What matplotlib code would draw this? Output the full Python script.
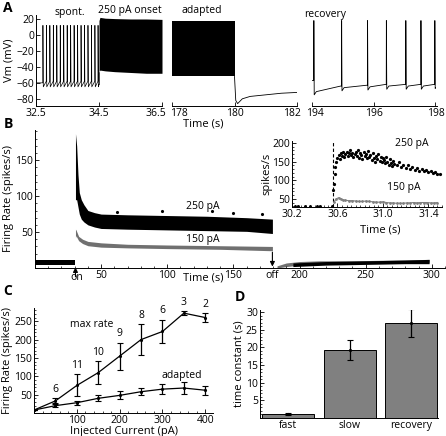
import numpy as np
import matplotlib
matplotlib.use("Agg")
import matplotlib.pyplot as plt
from matplotlib.ticker import MultipleLocator
from matplotlib.transforms import ScaledTranslation

plt.rcParams['font.family'] = ['Open Sans', 'DejaVu Sans']
plt.rcParams['font.size'] = 7.5

# ---------------- DATA ----------------
# Panel A: spontaneous spikes (s), peak/trough (mV)
spont_spikes = [32.72, 32.83, 32.94, 33.05, 33.16, 33.27, 33.38, 33.49, 33.60,
                33.71, 33.82, 33.93, 34.04, 34.15, 34.26, 34.37, 34.47]
spont_peak = 12
spont_trough = -65
spont_thresh = -58
# 250 pA onset block envelope
onset_t = [34.5, 34.53, 34.7, 35.0, 35.5, 36.0, 36.5]
onset_hi = [18, 22, 21, 20.5, 20, 20, 19.5]
onset_lo = [-46, -44, -45, -46, -47, -48, -48]
# adapted block envelope
adapt_t = [178.0, 180.0]
adapt_hi = [18, 18]
adapt_lo = [-52, -52]
# after current off
off_t = [180.0, 180.04, 180.1, 180.25, 180.5, 181.0, 181.5, 182.0]
off_v = [-52, -82, -86, -80, -77, -75, -73, -72]
# recovery
rec_spikes = [194.06, 194.96, 195.80, 196.41, 197.04, 197.53, 197.98]
rec_peak = 18
rec_trough = [-75, -70, -69, -68, -68, -68, -67]
rec_thresh = [-64, -63, -62, -62, -62, -62, -65]

# Panel B: firing-rate envelopes (spikes/s)
pre_t = [0, 30.5]
pre_hi = [11, 11]
pre_lo = [4, 4]
r250_t = [30.6, 31.5, 32.5, 33.5, 35, 37, 40, 45, 50, 70, 100, 130, 160, 179.5]
r250_hi = [187, 170, 130, 105, 95, 88, 80, 77, 75, 74, 73, 72, 70, 68]
r250_lo = [95, 95, 85, 75, 68, 64, 60, 57, 55, 54, 53, 52, 51, 48]
r150_t = [30.6, 31, 33, 36, 40, 50, 70, 100, 140, 179.5]
r150_hi = [54, 53, 44, 40, 37, 35, 33, 32, 31, 30]
r150_lo = [42, 45, 38, 34, 31, 29, 28, 27, 26, 24]
rec_g_t = [183, 190, 200, 215, 240, 270, 298]
rec_g_hi = [3, 7, 9, 10, 10, 11, 12]
rec_g_lo = [0, 2, 4, 5, 6, 7, 8]
rec_b_t = [195, 220, 250, 280, 298]
rec_b_hi = [7, 9, 10, 11, 12]
rec_b_lo = [2, 4, 5, 6, 6]
out_t = [62, 96, 134, 150, 172]
out_v = [78, 80, 80, 77, 75]

# Inset
ins_pre_t = [30.23, 30.255, 30.315, 30.36, 30.42, 30.445, 30.55]
ins_pre_v = [31, 31, 31, 31, 31, 31, 31]
ins_onset = 30.56
ins250_t = [30.565, 30.57, 30.575, 30.58, 30.59, 30.60, 30.61, 30.62, 30.63, 30.64,
            30.65, 30.66, 30.67, 30.68, 30.69, 30.70, 30.71, 30.72, 30.73, 30.74,
            30.75, 30.76, 30.77, 30.78, 30.79, 30.80, 30.81, 30.82, 30.83, 30.84,
            30.85, 30.86, 30.87, 30.88, 30.89, 30.90, 30.91, 30.92, 30.93, 30.94,
            30.95, 30.96, 30.97, 30.98, 30.99, 31.00, 31.01, 31.02, 31.03, 31.04,
            31.05, 31.06, 31.07, 31.08, 31.09, 31.10, 31.12, 31.14, 31.16, 31.18,
            31.20, 31.22, 31.24, 31.26, 31.28, 31.30, 31.32, 31.34, 31.36, 31.38,
            31.40, 31.42, 31.44, 31.46, 31.48, 31.50]
ins250_v = [75, 90, 118, 135, 150, 160, 168, 158, 172, 165,
            175, 162, 170, 176, 165, 172, 180, 168, 174, 163,
            170, 177, 166, 182, 160, 172, 168, 158, 175, 164,
            170, 160, 178, 162, 168, 155, 172, 160, 150, 166,
            158, 170, 152, 162, 148, 160, 155, 145, 163, 150,
            142, 156, 146, 138, 152, 144, 140, 148, 136, 142,
            134, 140, 130, 136, 128, 132, 126, 130, 124, 127,
            122, 124, 120, 121, 117, 116]
ins150_t = [30.57, 30.59, 30.61, 30.63, 30.65, 30.67, 30.70, 30.73, 30.76, 30.79,
            30.82, 30.85, 30.88, 30.91, 30.94, 30.97, 31.00, 31.03, 31.06, 31.09,
            31.12, 31.15, 31.18, 31.21, 31.24, 31.27, 31.30, 31.33, 31.36, 31.39,
            31.42, 31.45, 31.48]
ins150_v = [42, 50, 53, 50, 47, 46, 45, 45, 44, 43,
            43, 44, 43, 42, 41, 41, 42, 40, 39, 39,
            38, 38, 38, 39, 39, 40, 39, 40, 40, 40,
            39, 39, 40]

# Panel C
current = [0, 50, 100, 150, 200, 250, 300, 350, 400]
max_rate = [8, 33, 75, 110, 155, 200, 222, 272, 260]
max_err = [0, 7, 30, 32, 37, 42, 32, 6, 12]
adapted_rate = [8, 20, 28, 40, 48, 58, 65, 68, 62]
adapted_err = [0, 5, 6, 8, 11, 10, 13, 17, 12]
n_labels = ['', '6', '11', '10', '9', '8', '6', '3', '2']

# Panel D
tc_names = ['fast', 'slow', 'recovery']
tc_vals = [1.1, 19.3, 27.0]
tc_err = [0.25, 2.9, 4.0]

# ---------------- FIGURE ----------------
W, H = 446, 436
fig = plt.figure(figsize=(W / 100, H / 100), dpi=100)


def R(l, t, r, b):
    return [l / W, 1 - b / H, (r - l) / W, (b - t) / H]


def style(ax, left=True):
    for s in ['top', 'right']:
        ax.spines[s].set_visible(False)
    if not left:
        ax.spines['left'].set_visible(False)
        ax.tick_params(axis='y', left=False, labelleft=False, which='both')
    for s in ['left', 'bottom']:
        ax.spines[s].set_linewidth(0.7)
    ax.tick_params(direction='in', length=3, width=0.6, pad=1.5, labelsize=7.5)
    ax.tick_params(which='minor', direction='in', length=1.6, width=0.5)
    ax.patch.set_alpha(0)


def shift_label(ax, idx, dx_px):
    lab = ax.get_xticklabels()[idx]
    lab.set_transform(lab.get_transform() + ScaledTranslation(dx_px / 100, 0, fig.dpi_scale_trans))


def spike_trace(spikes, peak, troughs, threshs, t0, v0, t_end, v_end):
    ts, vs = [t0], [v0]
    for i, s in enumerate(spikes):
        ts += [s - 0.004, s, s + 0.012]
        vs += [threshs[i - 1] if i > 0 else v0, peak, troughs[i]]
        nxt = spikes[i + 1] if i + 1 < len(spikes) else t_end
        if nxt - s > 0.12:
            ts += [s + 0.08, nxt - 0.03]
            vs += [troughs[i] + 4, threshs[i]]
    ts.append(t_end)
    vs.append(v_end)
    return ts, vs


# Panel A
axA1 = fig.add_axes(R(36, 15, 162, 106))
axA2 = fig.add_axes(R(172, 15, 297, 106))
axA3 = fig.add_axes(R(312, 15, 437, 106))
for ax in (axA1, axA2, axA3):
    ax.set_ylim(-89, 25)
style(axA1)
style(axA2, left=False)
style(axA3, left=False)
axA1.set_xlim(32.5, 36.5)
axA2.set_xlim(178, 182)
axA3.set_xlim(194, 198.05)
axA1.set_xticks([32.5, 34.5, 36.5], ['32.5', '34.5', '36.5'])
axA2.set_xticks([178, 180, 182])
axA3.set_xticks([194, 196, 198])
axA1.set_yticks([-80, -60, -40, -20, 0, 20])
axA1.set_ylabel('Vm (mV)', fontsize=8, labelpad=1)
shift_label(axA1, 2, -6)
shift_label(axA2, 0, 7)
shift_label(axA2, 2, -5)
shift_label(axA3, 0, 3)

n = len(spont_spikes)
ts, vs = spike_trace(spont_spikes, spont_peak, [spont_trough] * n, [spont_thresh] * n,
                     32.5, -60, 34.5, -62)
axA1.plot(ts, vs, color='k', lw=0.5)
axA1.plot([34.5, 34.5], [-62, onset_lo[0]], color='k', lw=0.5)
axA1.fill_between(onset_t, onset_lo, onset_hi, color='k', lw=0)

axA2.fill_between(adapt_t, adapt_lo, adapt_hi, color='k', lw=0)
axA2.plot(off_t, off_v, color='k', lw=0.6)

ts, vs = spike_trace(rec_spikes, rec_peak, rec_trough, rec_thresh,
                     194.0, -57, 198.0, -66)
axA3.plot(ts, vs, color='k', lw=0.6)

fig.text(70 / W, 1 - 13 / H, 'spont.', ha='center', va='center', fontsize=7.5)
fig.text(130 / W, 1 - 10 / H, '250 pA onset', ha='center', va='center', fontsize=7.5)
fig.text(202 / W, 1 - 10 / H, 'adapted', ha='center', va='center', fontsize=7.5)
fig.text(325 / W, 1 - 14 / H, 'recovery', ha='center', va='center', fontsize=7.5)
fig.text(203 / W, 1 - 124 / H, 'Time (s)', ha='center', va='center', fontsize=8)

# Panel B
axB = fig.add_axes(R(35, 130, 445, 268))
style(axB)
axB.set_xlim(0, 310)
axB.set_ylim(0, 192)
axB.set_xticks([50, 100, 150, 200, 250, 300])
axB.xaxis.set_minor_locator(MultipleLocator(10))
axB.set_yticks([50, 100, 150])
axB.yaxis.set_minor_locator(MultipleLocator(10))
axB.set_ylabel('Firing Rate (spikes/s)', fontsize=8, labelpad=1)
axB.set_xlabel('Time (s)', fontsize=8, labelpad=0)
axB.xaxis.set_label_coords((203 - 35) / 410, -0.03, transform=axB.transAxes)
axB.xaxis.label.set_va('top')
axB.fill_between(pre_t, pre_lo, pre_hi, color='k', lw=0)
axB.fill_between(r250_t, r250_lo, r250_hi, color='k', lw=0)
axB.fill_between(r150_t, r150_lo, r150_hi, color='#707070', lw=0)
axB.fill_between(rec_g_t, rec_g_lo, rec_g_hi, color='#707070', lw=0)
axB.fill_between(rec_b_t, rec_b_lo, rec_b_hi, color='k', lw=0)
axB.plot(out_t, out_v, 'k.', ms=2.5)
axB.text(127, 85, '250 pA', ha='center', va='center', fontsize=7.5)
axB.text(127, 39, '150 pA', ha='center', va='center', fontsize=7.5)
axB.annotate('', xy=(30.6, 1), xytext=(30.6, -12), annotation_clip=False,
             arrowprops=dict(arrowstyle='-|>', color='k', lw=0.8, mutation_scale=7,
                             shrinkA=0, shrinkB=0))
axB.annotate('', xy=(179.5, 2), xytext=(179.5, 22), annotation_clip=False,
             arrowprops=dict(arrowstyle='-|>', color='k', lw=0.8, mutation_scale=7,
                             shrinkA=0, shrinkB=0))
fig.text(77 / W, 1 - 278 / H, 'on', ha='center', va='center', fontsize=7.5)
fig.text(272 / W, 1 - 276 / H, 'off', ha='center', va='center', fontsize=7.5)

# Inset
axI = fig.add_axes(R(292, 141, 442, 207))
style(axI)
axI.set_xlim(30.2, 31.52)
axI.set_ylim(28, 205.5)
axI.set_xticks([30.2, 30.6, 31.0, 31.4], ['30.2', '30.6', '31.0', '31.4'])
axI.xaxis.set_minor_locator(MultipleLocator(0.04))
axI.set_yticks([50, 100, 150, 200])
axI.yaxis.set_minor_locator(MultipleLocator(10))
axI.tick_params(which='minor', length=1.2)
axI.axvline(ins_onset, color='k', lw=0.8, ls=(0, (3, 2)))
axI.plot(ins_pre_t, ins_pre_v, 'k.', ms=2.2, clip_on=False)
axI.plot(ins250_t, ins250_v, 'k.', ms=2.6)
axI.plot(ins150_t, ins150_v, color='#808080', lw=0.8, marker='.', ms=2)
axI.text(31.11, 198, '250 pA', ha='left', va='center', fontsize=7.5)
axI.text(31.04, 80, '150 pA', ha='left', va='center', fontsize=7.5)
axI.set_ylabel('spikes/s', fontsize=8, labelpad=0)
axI.set_xlabel('Time (s)', fontsize=8)
axI.xaxis.set_label_coords((380 - 292) / 150, -0.26, transform=axI.transAxes)

# Panel C
axC = fig.add_axes(R(34, 308, 213, 413))
style(axC)
axC.set_xlim(0, 418)
axC.set_ylim(0, 286)
axC.set_xticks([100, 200, 300, 400])
axC.xaxis.set_minor_locator(MultipleLocator(20))
axC.set_yticks([50, 100, 150, 200, 250])
axC.yaxis.set_minor_locator(MultipleLocator(10))
axC.errorbar(current, max_rate, yerr=max_err, color='k', lw=0.9, elinewidth=0.9,
             capsize=2, capthick=0.8, marker='.', ms=2.5)
axC.errorbar(current, adapted_rate, yerr=adapted_err, color='k', lw=0.9, elinewidth=0.9,
             capsize=2, capthick=0.8, marker='.', ms=2.5)
for x, y, e, lab in zip(current, max_rate, max_err, n_labels):
    if lab:
        axC.text(x, y + e + 9, lab, ha='center', va='bottom', fontsize=7.5)
axC.text(135, 240, 'max rate', ha='center', va='center', fontsize=7.5)
axC.text(345, 102, 'adapted', ha='center', va='center', fontsize=7.5)
axC.set_ylabel('Firing Rate (spikes/s)', fontsize=8, labelpad=1)
axC.set_xlabel('Injected Current (pA)', fontsize=8, labelpad=0)

# Panel D
axD = fig.add_axes(R(260, 310, 438, 418))
style(axD)
axD.set_xlim(-0.45, 2.43)
axD.set_ylim(0, 30.6)
xs = np.arange(len(tc_names))
axD.bar(xs, tc_vals, width=0.84, color='#808080', edgecolor='k', lw=0.7)
axD.errorbar(xs, tc_vals, yerr=tc_err, fmt='.', color='k', ms=2.5, elinewidth=0.9,
             capsize=2, capthick=0.8)
axD.set_xticks(xs, tc_names)
axD.tick_params(axis='x', length=0)
axD.set_yticks([5, 10, 15, 20, 25, 30])
axD.yaxis.set_minor_locator(MultipleLocator(1))
axD.set_ylabel('time constant (s)', fontsize=8, labelpad=1)

# Panel letters
for lab, x, y in [('A', 8, 8), ('B', 8, 124), ('C', 8, 291), ('D', 240, 297)]:
    fig.text(x / W, 1 - y / H, lab, ha='center', va='center', fontsize=10, weight='bold')

fig.savefig('out.png', dpi=100)
